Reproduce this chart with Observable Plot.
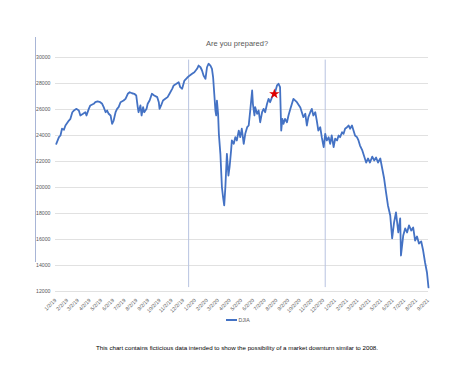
<!DOCTYPE html>
<html>
<head>
<meta charset="utf-8">
<script src="https://cdn.jsdelivr.net/npm/d3@7"></script>
<script src="https://cdn.jsdelivr.net/npm/@observablehq/plot@0.6"></script>
<style>
  html, body { margin: 0; padding: 0; background: #fff; }
  #wrap { position: relative; width: 474px; height: 366px; overflow: hidden; font-family: "Liberation Sans", Arial, sans-serif; }
  #wrap svg { position: absolute; left: 0; top: 0; }
  .title { position: absolute; left: 0; width: 474px; top: 39px; text-align: center; font-size: 7.5px; color: #595959; }
  .deco { position: absolute; left: 35px; top: 37px; width: 1px; height: 225px; background: #a8b5d6; }
  .legend { position: absolute; left: 226px; top: 317px; font-size: 5.2px; color: #595959; display: flex; align-items: center; }
  .legend .sw { width: 11px; height: 1.7px; background: #4472c4; margin-right: 1.5px; }
  .caption { position: absolute; left: 0; width: 474px; top: 344px; text-align: center; font-size: 6.2px; color: #000; }
</style>
</head>
<body>
<div id="wrap">
  <div class="deco"></div>
  <div class="title">Are you prepared?</div>
  <div class="legend"><div class="sw"></div><span>DJIA</span></div>
  <div class="caption">This chart contains ficticious data intended to show the possibility of a market downturn similar to 2008.</div>
</div>
<script>
const seriesName = "DJIA";
const dates = [
"2019-01-04","2019-01-11","2019-01-15","2019-01-19","2019-01-24","2019-01-28","2019-02-06","2019-02-10","2019-02-15","2019-02-19",
"2019-02-26","2019-03-04","2019-03-08","2019-03-15","2019-03-21","2019-03-24","2019-03-30","2019-04-03","2019-04-12","2019-04-16",
"2019-04-22","2019-04-29","2019-05-04","2019-05-08","2019-05-13","2019-05-17","2019-05-21","2019-05-26","2019-05-30","2019-06-03",
"2019-06-08","2019-06-12","2019-06-16","2019-06-21","2019-06-29","2019-07-04","2019-07-10","2019-07-15","2019-07-21","2019-07-27",
"2019-08-01","2019-08-05","2019-08-07","2019-08-12","2019-08-15","2019-08-19","2019-08-22","2019-08-28","2019-08-31","2019-09-05",
"2019-09-11","2019-09-17","2019-09-25","2019-09-29","2019-10-01","2019-10-05","2019-10-10","2019-10-16","2019-10-22","2019-10-27",
"2019-11-03","2019-11-07","2019-11-14","2019-11-20","2019-11-24","2019-11-29","2019-12-05","2019-12-12","2019-12-19","2019-12-25",
"2019-12-31","2020-01-07","2020-01-11","2020-01-16","2020-01-20","2020-01-24","2020-01-29","2020-02-02","2020-02-06","2020-02-11",
"2020-02-15","2020-02-18","2020-02-21","2020-02-24","2020-02-26","2020-02-28","2020-03-02","2020-03-04","2020-03-08","2020-03-10",
"2020-03-12","2020-03-15","2020-03-18","2020-03-21","2020-03-23","2020-03-25","2020-03-29","2020-04-01","2020-04-05","2020-04-07",
"2020-04-12","2020-04-16","2020-04-20","2020-04-25","2020-04-29","2020-05-03","2020-05-08","2020-05-12","2020-05-17","2020-05-21",
"2020-05-25","2020-05-30","2020-06-01","2020-06-05","2020-06-07","2020-06-12","2020-06-16","2020-06-20","2020-06-25","2020-06-29",
"2020-07-03","2020-07-08","2020-07-12","2020-07-16","2020-07-21","2020-07-25","2020-07-29","2020-08-03","2020-08-07","2020-08-11",
"2020-08-14","2020-08-17","2020-08-20","2020-08-24","2020-08-29","2020-09-02","2020-09-07","2020-09-15","2020-09-24","2020-10-03",
"2020-10-11","2020-10-16","2020-10-20","2020-10-24","2020-10-29","2020-11-02","2020-11-06","2020-11-11","2020-11-15","2020-11-19",
"2020-11-24","2020-11-28","2020-12-03","2020-12-07","2020-12-11","2020-12-16","2020-12-20","2020-12-24","2020-12-29","2021-01-02",
"2021-01-07","2021-01-11","2021-01-15","2021-01-20","2021-01-24","2021-01-28","2021-02-02","2021-02-06","2021-02-10","2021-02-15",
"2021-02-19","2021-02-23","2021-02-28","2021-03-04","2021-03-08","2021-03-14","2021-03-19","2021-03-24","2021-03-29","2021-04-03",
"2021-04-09","2021-04-14","2021-04-19","2021-04-24","2021-04-30","2021-05-05","2021-05-10","2021-05-15","2021-05-20","2021-05-26",
"2021-05-31","2021-06-05","2021-06-10","2021-06-16","2021-06-21","2021-06-23","2021-06-29","2021-07-04","2021-07-09","2021-07-14",
"2021-07-20","2021-07-25","2021-07-30","2021-08-04","2021-08-09","2021-08-15","2021-08-20","2021-08-25","2021-08-30","2021-09-03"
];
const values = [
23360,23870,24000,24520,24440,24770,25150,25280,25790,25920,
26050,25920,25540,25670,25790,25540,26050,26310,26440,26560,
26620,26560,26440,26180,25790,25920,25670,25540,24900,25150,
25790,26050,26180,26560,26690,26820,27210,27330,27250,27210,
27080,26180,25790,26310,25540,26180,25790,26050,26440,26690,
27210,27080,26950,26560,26050,26310,26690,26820,26950,27210,
27590,27850,27980,28100,27720,27600,28230,28440,28620,28750,
28870,29130,29380,29250,29000,28620,28360,29250,29520,29380,
29130,28480,27210,25920,25540,26690,25670,24130,22590,21310,
20020,19250,18620,20020,21310,22590,20920,21560,22850,23620,
23360,23870,23620,24380,23870,24520,23360,24130,24640,24770,
25920,27460,26440,25540,26180,25670,25920,25020,25790,26050,
25790,26440,26820,26560,26950,27210,27330,27850,27980,27720,
24380,25280,24900,25280,25020,25540,26050,26820,26560,26150,
25410,25670,24770,25410,25790,26050,25540,25790,25150,24380,
24640,23870,23100,24130,23620,23870,23360,24000,23100,23750,
23620,24000,23870,24250,24130,24520,24640,24770,24520,24770,
24380,24000,23870,23620,23230,22850,22380,21920,22230,21920,
22380,22080,22310,21920,22230,21460,20690,19620,18620,17850,
16080,17310,18080,16540,17620,14770,16310,16850,16540,17080,
16690,16920,15920,16230,15690,15850,15150,14230,13460,12310
];
const xTickLabels = ["1/2/19","2/2/19","3/2/19","4/2/19","5/2/19","6/2/19","7/2/19","8/2/19","9/2/19","10/2/19","11/2/19","12/2/19",
"1/2/20","2/2/20","3/2/20","4/2/20","5/2/20","6/2/20","7/2/20","8/2/20","9/2/20","10/2/20","11/2/20","12/2/20",
"1/2/21","2/2/21","3/2/21","4/2/21","5/2/21","6/2/21","7/2/21","8/2/21","9/2/21"];
const yTicks = [12000,14000,16000,18000,20000,22000,24000,26000,28000,30000];
const markerDates = ["2019-12-16","2020-12-07"];
const markerLow = 12300, markerHigh = 29800;
const starDate = "2020-07-27", starValue = 27200;

const parseISO = d3.utcParse("%Y-%m-%d");
const parseLabel = d3.utcParse("%m/%d/%y");
const data = dates.map((d, i) => ({date: parseISO(d), value: values[i]}));
const xTicks = xTickLabels.map(parseLabel);
const markers = markerDates.map(d => ({date: parseISO(d)}));
const star = [{date: parseISO(starDate), value: starValue}];

const chart = Plot.plot({
  width: 474,
  height: 366,
  marginLeft: 55,
  marginRight: 46,
  marginTop: 57,
  marginBottom: 75,
  style: {fontFamily: "'Liberation Sans', Arial, sans-serif", background: "transparent", overflow: "visible"},
  x: {type: "utc", domain: [parseISO("2019-01-02"), parseISO("2021-09-03")], label: null},
  y: {domain: [12000, 30000], label: null},
  marks: [
    Plot.gridY(yTicks, {stroke: "#d9d9d9", strokeOpacity: 1, strokeWidth: 0.8}),
    Plot.axisY(yTicks, {tickSize: 0, tickPadding: 5, fontSize: 5.2, fill: "#595959", label: null, tickFormat: d => String(d)}),
    Plot.axisX(xTicks, {tickSize: 0, tickPadding: 8, tickRotate: -45, fontSize: 5.2, fill: "#595959", label: null, tickFormat: (d, i) => xTickLabels[i]}),
    Plot.ruleX(markers, {x: "date", y1: markerLow, y2: markerHigh, stroke: "#b7c3e0", strokeWidth: 1}),
    Plot.lineY(data, {x: "date", y: "value", stroke: "#4472c4", strokeWidth: 1.8, strokeLinejoin: "round"}),
    Plot.dot(star, {x: "date", y: "value", symbol: "star", fill: "#e00000", stroke: "none", r: 3.3})
  ]
});
document.getElementById("wrap").prepend(chart);
</script>
</body>
</html>
